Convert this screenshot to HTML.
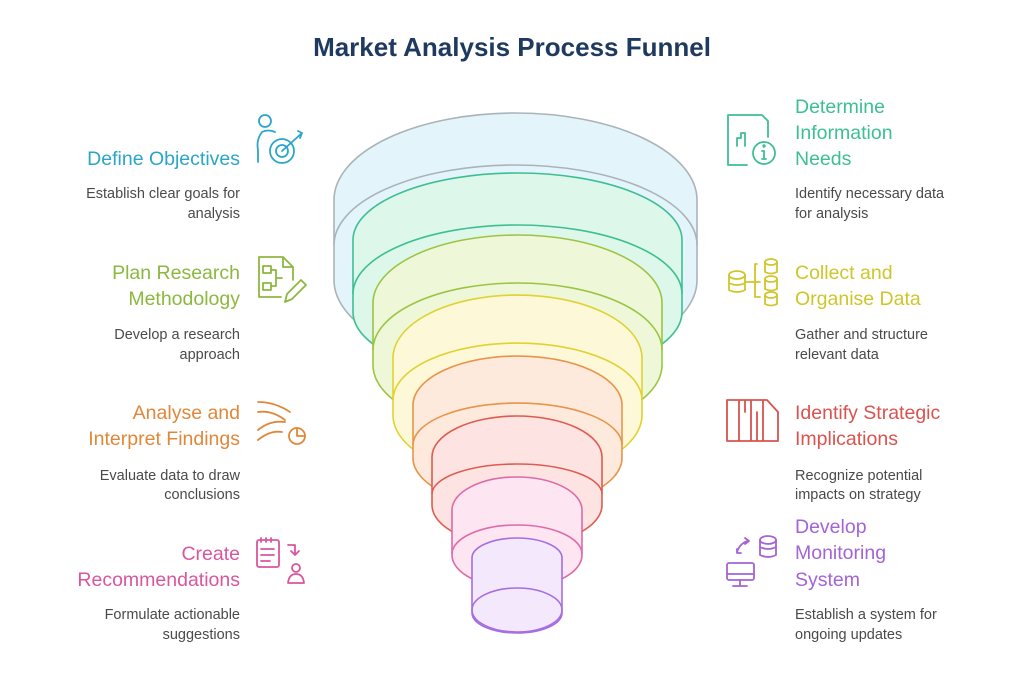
<!DOCTYPE html>
<html><head><meta charset="utf-8"><style>
html,body{margin:0;padding:0;background:#fff;}
svg{display:block;font-family:"Liberation Sans",sans-serif;}
.h{font-size:19.5px;}
.d{font-size:14.5px;fill:#4a4a4a;}
</style></head><body>
<svg width="1024" height="685" viewBox="0 0 1024 685" xmlns="http://www.w3.org/2000/svg">
<text x="512" y="56" text-anchor="middle" font-size="26" font-weight="bold" fill="#1f3a60">Market Analysis Process Funnel</text>

<g stroke-width="1.6">
<!-- L0 gray -->
<path d="M334 200 A181.5 87 0 0 1 697 200 L697 280 A181.5 87 0 0 1 334 280 Z" fill="#e4f4fb" stroke="#aab4b8"/>
<path d="M334 245 A181.5 80 0 0 1 697 245" fill="none" stroke="#aab4b8"/>
<!-- L1 green -->
<path d="M353 240 A164.5 67 0 0 1 682 240 L682 312 A164.5 67 0 0 1 353 312 Z" fill="#ddf7ea" stroke="#3dbf94"/>
<path d="M353 294 A164.5 69 0 0 1 682 294" fill="none" stroke="#3dbf94"/>
<!-- L2 yellow-green -->
<path d="M373 303 A144.5 68 0 0 1 662 303 L662 365 A144.5 68 0 0 1 373 365 Z" fill="#eef8d9" stroke="#9cc443"/>
<path d="M373 350 A144.5 67 0 0 1 662 350" fill="none" stroke="#9cc443"/>
<!-- L3 yellow -->
<path d="M393 358 A124.5 63 0 0 1 642 358 L642 415 A124.5 63 0 0 1 393 415 Z" fill="#fdf8d8" stroke="#e0d232"/>
<path d="M393 400 A124.5 57 0 0 1 642 400" fill="none" stroke="#e0d232"/>
<!-- L4 orange -->
<path d="M413 405 A104.5 49 0 0 1 622 405 L622 458 A104.5 49 0 0 1 413 458 Z" fill="#fdeadc" stroke="#e8954a"/>
<path d="M413 445 A104.5 42 0 0 1 622 445" fill="none" stroke="#e8954a"/>
<!-- L5 red -->
<path d="M432 457 A85 41 0 0 1 602 457 L602 505 A85 41 0 0 1 432 505 Z" fill="#fde4e2" stroke="#df5b4f"/>
<path d="M432 494 A85 30 0 0 1 602 494" fill="none" stroke="#df5b4f"/>
<!-- L6 pink -->
<path d="M452 510 A65 33 0 0 1 582 510 L582 555 A65 33 0 0 1 452 555 Z" fill="#fde5f2" stroke="#de6aa8"/>
<path d="M452 554 A65 29 0 0 1 582 554" fill="none" stroke="#de6aa8"/>
<!-- L7 purple -->
<path d="M472 558 A45 20 0 0 1 562 558 L562 613 A45 20 0 0 1 472 613 Z" fill="#f4e9fc" stroke="#a66ee0"/>
<ellipse cx="517" cy="610" rx="45" ry="22" fill="none" stroke="#a66ee0"/>
</g>

<!-- Left texts -->
<g text-anchor="end">
<text x="240" y="165" class="h" fill="#2ba6c9">Define Objectives</text>
<text x="240" y="198" class="d">Establish clear goals for</text>
<text x="240" y="218" class="d">analysis</text>

<text x="240" y="279" class="h" fill="#8db83f">Plan Research</text>
<text x="240" y="305" class="h" fill="#8db83f">Methodology</text>
<text x="240" y="339" class="d">Develop a research</text>
<text x="240" y="359" class="d">approach</text>

<text x="240" y="419" class="h" fill="#e0883a">Analyse and</text>
<text x="240" y="445" class="h" fill="#e0883a">Interpret Findings</text>
<text x="240" y="480" class="d">Evaluate data to draw</text>
<text x="240" y="499" class="d">conclusions</text>

<text x="240" y="560" class="h" fill="#d9569f">Create</text>
<text x="240" y="586" class="h" fill="#d9569f">Recommendations</text>
<text x="240" y="619" class="d">Formulate actionable</text>
<text x="240" y="639" class="d">suggestions</text>
</g>

<!-- Right texts -->
<g>
<text x="795" y="113" class="h" fill="#3dbf94">Determine</text>
<text x="795" y="139" class="h" fill="#3dbf94">Information</text>
<text x="795" y="165" class="h" fill="#3dbf94">Needs</text>
<text x="795" y="198" class="d">Identify necessary data</text>
<text x="795" y="218" class="d">for analysis</text>

<text x="795" y="279" class="h" fill="#cfc62a">Collect and</text>
<text x="795" y="305" class="h" fill="#cfc62a">Organise Data</text>
<text x="795" y="339" class="d">Gather and structure</text>
<text x="795" y="359" class="d">relevant data</text>

<text x="795" y="419" class="h" fill="#d9534f">Identify Strategic</text>
<text x="795" y="445" class="h" fill="#d9534f">Implications</text>
<text x="795" y="480" class="d">Recognize potential</text>
<text x="795" y="499" class="d">impacts on strategy</text>

<text x="795" y="533" class="h" fill="#a463d6">Develop</text>
<text x="795" y="559" class="h" fill="#a463d6">Monitoring</text>
<text x="795" y="586" class="h" fill="#a463d6">System</text>
<text x="795" y="619" class="d">Establish a system for</text>
<text x="795" y="639" class="d">ongoing updates</text>
</g>

<!-- Icons -->
<g fill="none" stroke-width="1.8" stroke-linecap="round" stroke-linejoin="round">
<!-- target person -->
<g stroke="#2ba6c9">
<circle cx="265" cy="121" r="6"/>
<path d="M258 162 V150 Q256 140 262 132 Q268 129 275 132"/>
<circle cx="282" cy="151" r="12"/><circle cx="282" cy="151" r="6"/>
<path d="M282 151 L302 133 M298 131 L302 133 L300 138"/>
</g>
<!-- plan doc -->
<g stroke="#8db83f">
<path d="M281 297 H259 V257 H283 L293 267 V280 M283 257 V267 H293"/>
<rect x="263" y="266" width="8" height="7"/><rect x="263" y="283" width="8" height="7"/>
<path d="M271 270 H276 V286 H271 M276 278 H282"/>
<path d="M285 302 L287 294 L301 280 L306 285 L292 299 Z"/>
</g>
<!-- analyse -->
<g stroke="#e0883a">
<path d="M258 402 Q275 402 290 412 M258 412 Q272 410 285 420 M258 430 Q270 420 285 422 M258 440 Q270 430 282 432"/>
<circle cx="297" cy="436" r="8"/><path d="M297 428 V436 H305"/>
</g>
<!-- recommendations -->
<g stroke="#d9569f">
<rect x="257" y="540" width="22" height="27" rx="2"/>
<path d="M261 538 V542 M266 538 V542 M271 538 V542 M261 549 H274 M261 555 H274 M261 561 H270"/>
<path d="M288 545 H295 V555 M291 551 L295 555 L299 551"/>
<circle cx="296" cy="568" r="4"/><path d="M288 583 Q289 574 296 574 Q303 574 304 583 Z"/>
</g>
<!-- determine info -->
<g stroke="#3dbf94">
<path d="M747 165 H728 V115 H762 L768 121 V137"/>
<path d="M737 146 V138 H741 V133 H745 V146"/>
<circle cx="764" cy="153" r="11"/><path d="M764 151 V159 M762 151 H764 M762 159 H766"/><circle cx="764" cy="146" r="0.8"/>
</g>
<!-- collect -->
<g stroke="#cfc62a">
<ellipse cx="737" cy="275" rx="8" ry="4"/><path d="M729 275 V290 Q737 294 745 290 V275 M729 283 Q737 287 745 283"/>
<path d="M745 282 H760 M757 264 H755 V297 H760 M755 282 H760"/>
<ellipse cx="771" cy="262" rx="6" ry="3"/><path d="M765 262 V272 Q771 275 777 272 V262"/>
<ellipse cx="771" cy="279" rx="6" ry="3"/><path d="M765 279 V289 Q771 292 777 289 V279"/>
<ellipse cx="771" cy="295" rx="6" ry="3"/><path d="M765 295 V304 Q771 307 777 304 V295"/>
</g>
<!-- strategic -->
<g stroke="#d9534f">
<path d="M727 400 H767 L778 412 V441 H727 Z M739 400 V441 M751 400 V441 M763 400 V441 M745 400 V412 M757 412 V441"/>
</g>
<!-- monitoring -->
<g stroke="#a463d6">
<rect x="727" y="563" width="27" height="17" rx="2"/><path d="M727 574 H754 M740 580 V586 M733 586 H747"/>
<path d="M737 552 Q740 543 748 541 M745 538 L749 541 L745 544 M737 549 L737 553 L741 553"/>
<ellipse cx="768" cy="540" rx="8" ry="4"/><path d="M760 540 V555 Q768 559 776 555 V540 M760 547 Q768 551 776 547"/>
</g>
</g>
</svg>
</body></html>
